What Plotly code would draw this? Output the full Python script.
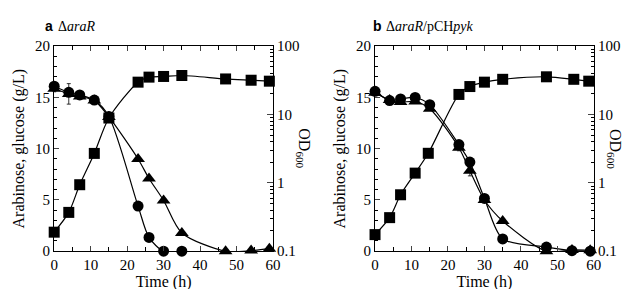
import plotly.graph_objects as go

# ---------------- data ----------------
time_a = [0, 4, 7, 11, 15, 23, 26, 30, 35, 47, 54, 59]
od_a = [0.19, 0.37, 0.94, 2.7, 8.9, 29.8, 35.3, 36.1, 37.3, 33.2, 31.8, 30.8]
circ_t_a = [0, 4, 7, 11, 15, 23, 26, 30, 35]
circ_a = [16.1, 15.5, 15.25, 14.75, 13.15, 4.4, 1.35, 0.0, 0.0]
circ_err_a = [0.3, 0.3, 0, 0, 0, 0, 0, 0, 0]
tri_t_a = [0, 4, 7, 11, 15, 23, 26, 30, 35, 47, 54, 59]
tri_a = [15.85, 15.35, 15.1, 14.7, 13.1, 9.0, 7.1, 4.95, 1.78, 0.0, 0.06, 0.25]
tri_err_a = [0.3, 1.0, 0, 0, 0, 0, 0, 0, 0, 0, 0, 0]

time_b = [0, 4, 7, 11, 14.6, 23, 26, 30, 35, 47, 54.5, 58.6]
od_b = [0.175, 0.31, 0.67, 1.39, 2.71, 19.7, 25.7, 29.8, 32.8, 35.7, 32.8, 30.8]
circ_t_b = [0, 4, 7, 11, 15, 23, 26, 30, 35, 47, 54, 59]
circ_b = [15.6, 14.7, 14.85, 15.0, 14.3, 10.4, 8.7, 5.15, 1.2, 0.4, 0.05, 0.0]
circ_err_b = [0, 0, 0, 0, 0, 0, 0, 0, 0, 0, 0, 0]
tri_t_b = [0, 4, 7, 11, 15, 23, 26, 30, 35, 47, 54, 59]
tri_b = [15.45, 14.75, 14.55, 14.6, 13.9, 10.1, 7.85, 5.0, 2.95, 0.0, 0.12, 0.1]
tri_err_b = [0, 0, 0, 0, 0, 0.3, 0.5, 0, 0, 0, 0, 0]

x_ticks = [0, 10, 20, 30, 40, 50, 60]
left_ticks = [0, 5, 10, 15, 20]
right_tickvals = [0.1, 1, 10, 100]
right_ticktext = ["0.1", "1", "10", "100"]

SERIF = "Liberation Serif"
SANS = "Liberation Sans"

fig = go.Figure()

line_style = dict(color="black", width=1.2, shape="spline", smoothing=0.8)

panels = [
    (time_a, od_a, circ_t_a, circ_a, circ_err_a, tri_t_a, tri_a, tri_err_a),
    (time_b, od_b, circ_t_b, circ_b, circ_err_b, tri_t_b, tri_b, tri_err_b),
]
axes_ids = [("x", "y", "y2"), ("x2", "y3", "y4")]

for (tt, od, ct, cv, ce, trt, trv, tre), (xa, ya, ya2) in zip(panels, axes_ids):
    fig.add_trace(go.Scatter(
        x=trt, y=trv, mode="lines+markers", xaxis=xa, yaxis=ya,
        line=line_style, marker=dict(symbol="triangle-up", size=12, color="black"),
        error_y=dict(type="data", array=tre, color="black", thickness=0.8, width=2),
        showlegend=False, cliponaxis=False))
    fig.add_trace(go.Scatter(
        x=ct, y=cv, mode="lines+markers", xaxis=xa, yaxis=ya,
        line=line_style, marker=dict(symbol="circle", size=11, color="black"),
        error_y=dict(type="data", array=ce, color="black", thickness=0.8, width=2),
        showlegend=False, cliponaxis=False))
    fig.add_trace(go.Scatter(
        x=tt, y=od, mode="lines+markers", xaxis=xa, yaxis=ya2,
        line=line_style, marker=dict(symbol="square", size=11, color="black"),
        showlegend=False, cliponaxis=False))

W, H = 638, 289
dom_a = [43 / W, 266 / W]
dom_b = [370 / W, 593 / W]
ydom = [1 - 249 / H, 1 - 32 / H]

tickfont = dict(family=SERIF, size=15, color="black")
common_x = dict(range=[0, 60], tickvals=x_ticks, ticks="inside", ticklen=5,
                tickwidth=1, showline=True, linecolor="black", linewidth=1.2,
                mirror="ticks", showgrid=False, zeroline=False, tickfont=tickfont,
                minor=dict(dtick=5, ticks="inside", ticklen=4, tickcolor="black"),
                title=dict(text="Time (h)", font=dict(family=SERIF, size=16, color="black"),
                           standoff=2))
common_yl = dict(range=[0, 20], tickvals=left_ticks, ticks="inside", ticklen=5,
                 showline=True, linecolor="black", linewidth=1.2, showgrid=False,
                 zeroline=False, tickfont=tickfont,
                 minor=dict(dtick=1, ticks="inside", ticklen=3, tickcolor="black"),
                 title=dict(text="Arabinose, glucose (g/L)",
                            font=dict(family=SERIF, size=16, color="black"), standoff=6))
minor_log = [m * 10 ** e for e in (-1, 0, 1) for m in range(2, 10)]
common_yr = dict(type="log", range=[-1, 2], tickvals=right_tickvals, ticktext=right_ticktext,
                 ticks="inside", ticklen=6, showline=True, linecolor="black", linewidth=1.2,
                 showgrid=False, zeroline=False, tickfont=tickfont, side="right",
                 minor=dict(tickvals=minor_log, ticks="inside", ticklen=3, tickcolor="black"))

fig.update_layout(
    width=W, height=H, margin=dict(l=0, r=0, t=0, b=0),
    paper_bgcolor="white", plot_bgcolor="white",
    xaxis=dict(domain=dom_a, anchor="y", **common_x),
    xaxis2=dict(domain=dom_b, anchor="y3", **common_x),
    yaxis=dict(domain=ydom, anchor="x", **common_yl),
    yaxis2=dict(domain=ydom, anchor="x", overlaying="y", **common_yr),
    yaxis3=dict(domain=ydom, anchor="x2", **common_yl),
    yaxis4=dict(domain=ydom, anchor="x2", overlaying="y3", **common_yr),
)

# OD600 labels (read top to bottom)
for xp in (297 / W, 626 / W):
    fig.add_annotation(x=xp, y=(ydom[0] + ydom[1]) / 2, xref="paper", yref="paper",
                       text="OD<sub>600</sub>", textangle=90, showarrow=False,
                       font=dict(family=SERIF, size=16, color="black"))

# Panel titles
fig.add_annotation(x=32 / W, y=1 - 11 / H, xref="paper", yref="paper", xanchor="left",
                   yanchor="middle", showarrow=False,
                   text="<b>a</b>", font=dict(family=SANS, size=14, color="black"))
fig.add_annotation(x=45 / W, y=1 - 11 / H, xref="paper", yref="paper", xanchor="left",
                   yanchor="middle", showarrow=False,
                   text="Δ<i>araR</i>", font=dict(family=SERIF, size=14, color="black"))
fig.add_annotation(x=366 / W, y=1 - 11 / H, xref="paper", yref="paper", xanchor="left",
                   yanchor="middle", showarrow=False,
                   text="<b>b</b>", font=dict(family=SANS, size=14, color="black"))
fig.add_annotation(x=379 / W, y=1 - 11 / H, xref="paper", yref="paper", xanchor="left",
                   yanchor="middle", showarrow=False,
                   text="Δ<i>araR</i>/pCH<i>pyk</i>", font=dict(family=SERIF, size=14, color="black"))

fig.write_html("out.html")
